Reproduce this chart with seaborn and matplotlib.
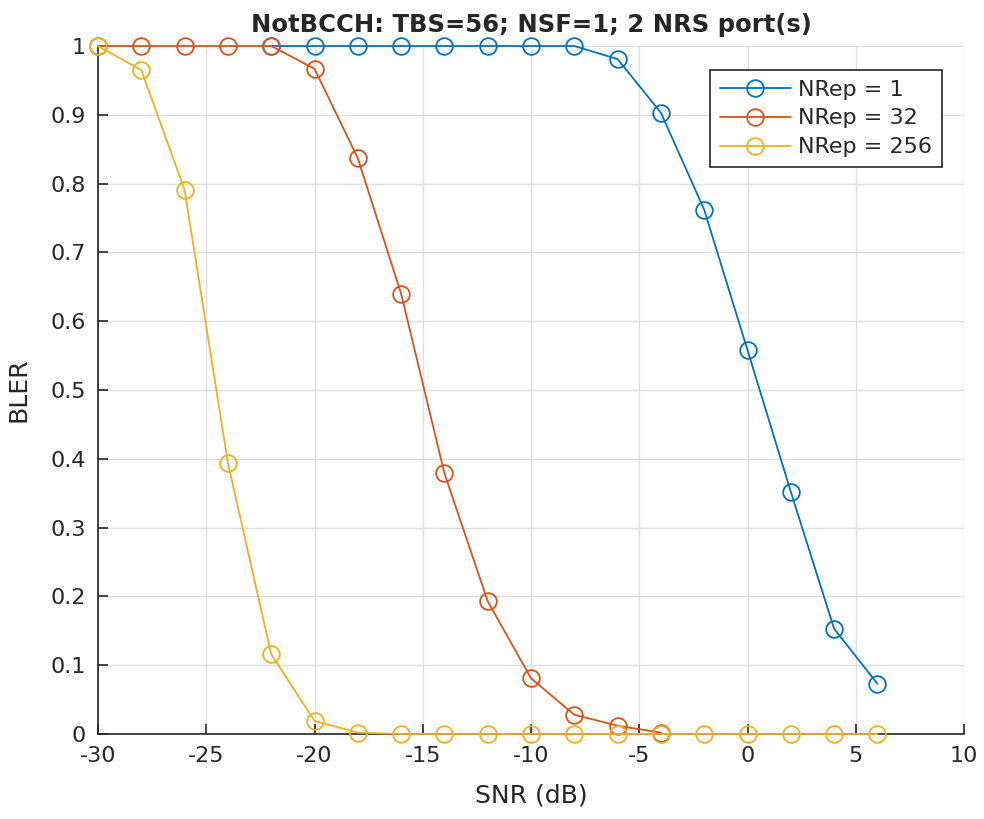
import numpy as np
import pandas as pd
import seaborn as sns
import matplotlib.pyplot as plt

# SNR points (dB) for each repetition setting
snr_rep1 = [-22, -20, -18, -16, -14, -12, -10, -8, -6, -4, -2, 0, 2, 4, 6]
bler_rep1 = [1, 1, 1, 1, 1, 1, 1, 1, 0.981, 0.903, 0.762, 0.558, 0.352, 0.153, 0.073]

snr_rep32 = [-30, -28, -26, -24, -22, -20, -18, -16, -14, -12, -10, -8, -6, -4]
bler_rep32 = [1, 1, 1, 1, 1, 0.967, 0.837, 0.640, 0.379, 0.193, 0.081, 0.028, 0.012, 0.002]

snr_rep256 = [-30, -28, -26, -24, -22, -20, -18, -16, -14, -12, -10, -8, -6, -4, -2, 0, 2, 4, 6]
bler_rep256 = [1, 0.965, 0.791, 0.394, 0.116, 0.019, 0.002, 0, 0, 0, 0, 0, 0, 0, 0, 0, 0, 0, 0]

labels = ["NRep = 1", "NRep = 32", "NRep = 256"]
colors = ["#0072BD", "#D95319", "#EDB120"]

df = pd.concat([
    pd.DataFrame({"SNR": snr_rep1, "BLER": bler_rep1, "series": labels[0]}),
    pd.DataFrame({"SNR": snr_rep32, "BLER": bler_rep32, "series": labels[1]}),
    pd.DataFrame({"SNR": snr_rep256, "BLER": bler_rep256, "series": labels[2]}),
], ignore_index=True)

sns.set_style("ticks")
plt.rcParams['font.family'] = ['DejaVu Sans']
plt.rcParams['axes.unicode_minus'] = False

fig = plt.figure(figsize=(9.84, 8.19), dpi=100)
ax = fig.add_axes([0.0996, 0.1038, 0.8801, 0.8400])

for lab, col in zip(labels, colors):
    sub = df[df["series"] == lab]
    sns.lineplot(data=sub, x="SNR", y="BLER", ax=ax, color=col, label=lab,
                 marker="o", markersize=12, markerfacecolor="none",
                 markeredgecolor=col, markeredgewidth=1.3, linewidth=1.3,
                 clip_on=False, zorder=3)

ax.set_xlim(-30, 10)
ax.set_ylim(0, 1)
ax.set_xticks(np.arange(-30, 11, 5))
ax.set_yticks(np.arange(0, 1.01, 0.1))
ax.set_yticklabels(["0", "0.1", "0.2", "0.3", "0.4", "0.5", "0.6", "0.7", "0.8", "0.9", "1"])
ax.grid(True, color="#dfdfdf", linewidth=1)
ax.set_axisbelow(True)
for s in ["top", "right"]:
    ax.spines[s].set_visible(False)
for s in ["left", "bottom"]:
    ax.spines[s].set_color("#262626")
    ax.spines[s].set_linewidth(1.2)
ax.tick_params(direction="in", length=7, width=1.2, labelsize=16, colors="#262626", pad=9)

ax.set_xlabel("SNR (dB)", fontsize=18, color="#262626", labelpad=12)
ax.set_ylabel("BLER", fontsize=18, color="#262626", labelpad=14)
ax.set_title("NotBCCH: TBS=56; NSF=1; 2 NRS port(s)", fontsize=17.5, fontweight="bold", pad=10)

leg = ax.legend(loc="upper right", bbox_to_anchor=(0.987, 0.982), fontsize=16,
                frameon=True, fancybox=False, edgecolor="#262626",
                handlelength=3.2, borderpad=0.45, labelspacing=0.4, handletextpad=0.3)
leg.get_frame().set_linewidth(1.2)
leg.get_frame().set_alpha(1)

fig.savefig("out.png", dpi=100)
